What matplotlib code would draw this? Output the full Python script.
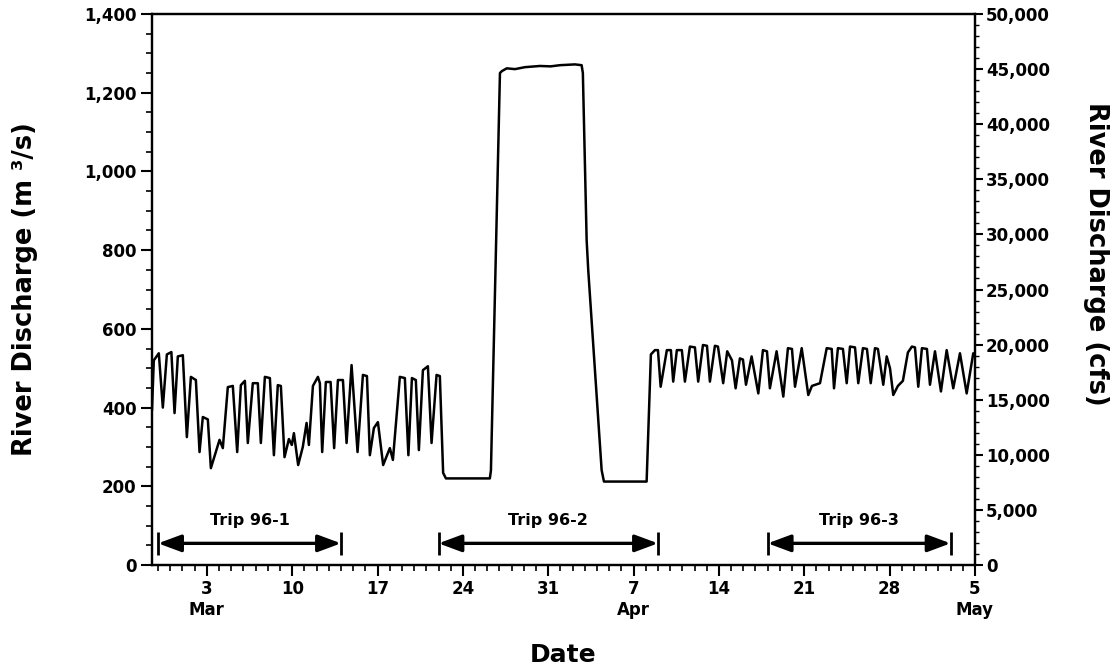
import pandas as pd
import matplotlib.pyplot as plt
from matplotlib.ticker import MultipleLocator, FuncFormatter

plt.rcParams['font.family'] = ['DejaVu Sans']
plt.rcParams['font.weight'] = 'bold'

# discharge record: days since 1 Mar 1996 and flow (m3/s)
days = [
    -2.50, -2.35, -1.94, -1.61, -1.28, -0.91, -0.65, -0.38, 0.03, 0.36,
    0.69, 1.10, 1.40, 1.67, 2.08, 2.33, 3.04, 3.31, 3.72, 4.13,
    4.49, 4.79, 5.12, 5.36, 5.77, 6.18, 6.43, 6.76, 7.17, 7.50,
    7.82, 8.07, 8.37, 8.73, 8.97, 9.14, 9.49, 9.87, 10.18, 10.37,
    10.70, 11.11, 11.27, 11.46, 11.76, 12.15, 12.44, 12.75, 13.16, 13.46,
    13.87, 14.36, 14.80, 15.13, 15.37, 15.70, 16.03, 16.46, 17.01, 17.26,
    17.83, 18.24, 18.53, 18.82, 19.14, 19.39, 19.72, 20.13, 20.43, 20.84,
    21.11, 21.38, 21.61,
    # low steady flow, then the controlled flood
    25.21, 25.30, 26.04, 26.20, 26.60, 27.27, 28.09, 29.32, 30.20, 30.96,
    32.19, 32.74, 32.84, 33.15, 33.28, 34.38, 34.57, 38.07, 38.42,
    # back to daily fluctuating flows
    38.75, 39.00, 39.22, 39.73, 40.06, 40.25, 40.55, 40.96, 41.21, 41.62,
    42.03, 42.30, 42.69, 43.02, 43.26, 43.67, 43.92, 44.35, 44.68, 45.07,
    45.37, 45.72, 45.97, 46.22, 46.68, 47.23, 47.61, 47.94, 48.18, 48.73,
    49.28, 49.66, 49.99, 50.24, 50.79, 51.33, 51.63, 52.12, 52.29, 52.84,
    53.25, 53.44, 53.76, 54.17, 54.48, 54.75, 55.16, 55.43, 55.81, 56.14,
    56.45, 56.80, 57.04, 57.48, 57.76, 58.03, 58.30, 58.68, 59.09, 59.50,
    59.83, 60.08, 60.35, 60.65, 61.06, 61.31, 61.72, 62.21, 62.68, 63.22,
    63.77, 64.32, 64.86, 65.00,
]
flow = [
    395, 520, 538, 400, 535, 541, 386, 530, 533, 325,
    478, 470, 287, 376, 370, 246, 318, 297, 452, 455,
    287, 457, 468, 310, 462, 462, 310, 478, 475, 279,
    457, 455, 274, 320, 305, 335, 254, 300, 361, 305,
    455, 478, 462, 287, 465, 465, 297, 470, 470, 310,
    508, 287, 483, 480, 279, 348, 363, 254, 297, 267,
    478, 475, 279, 475, 470, 292, 495, 505, 310, 483,
    480, 234, 220,
    220, 240, 1250, 1255, 1262, 1260, 1265, 1268, 1267, 1270,
    1272, 1270, 1250, 826, 750, 241, 212, 212, 535,
    546, 546, 453, 546, 546, 466, 546, 546, 466, 555,
    553, 466, 559, 557, 466, 557, 555, 462, 543, 520,
    449, 525, 522, 458, 530, 436, 546, 543, 449, 543,
    428, 551, 549, 453, 551, 432, 455, 460, 462, 551,
    549, 449, 551, 549, 462, 555, 553, 462, 551, 549,
    462, 551, 549, 458, 530, 500, 432, 455, 468, 540,
    555, 553, 453, 551, 549, 458, 543, 441, 546, 449,
    538, 436, 538, 530,
]

trip_names = ['Trip 96-1', 'Trip 96-2', 'Trip 96-3']
trip_start = ['1996-02-28', '1996-03-22', '1996-04-18']
trip_end = ['1996-03-14', '1996-04-09', '1996-05-03']

tick_dates = pd.date_range('1996-03-03', '1996-05-05', freq='7D')
tick_labels = ['3\nMar', '10', '17', '24', '31', '7\nApr', '14', '21', '28', '5\nMay']

t = pd.Timestamp('1996-03-01') + pd.to_timedelta(days, unit='D')

fig = plt.figure(figsize=(11.2, 6.68), dpi=100)
ax = fig.add_axes([0.1357, 0.1542, 0.7348, 0.8248])
ax.plot(t, flow, color='black', lw=1.8)

# trip arrows along the bottom
for name, s, e in zip(trip_names, trip_start, trip_end):
    s, e = pd.Timestamp(s), pd.Timestamp(e)
    ax.annotate('', xy=(e, 55), xytext=(s, 55),
                arrowprops=dict(arrowstyle='<|-|>,head_length=0.7,head_width=0.26',
                                mutation_scale=20, lw=2.4, color='black',
                                shrinkA=0, shrinkB=0))
    ax.vlines([s, e], 25, 85, color='black', lw=2)
    ax.text(s + (e - s) / 2, 95, name, ha='center', va='bottom',
            fontsize=11.5, fontweight='bold')

ax.set_xlim(pd.Timestamp('1996-02-27 12:00'), pd.Timestamp('1996-05-05'))
ax.set_ylim(0, 1400)
ax.set_xticks(tick_dates)
ax.set_xticklabels(tick_labels)
ax.set_xticks(pd.date_range('1996-02-28', '1996-05-05', freq='D'), minor=True)
ax.yaxis.set_major_locator(MultipleLocator(200))
ax.yaxis.set_minor_locator(MultipleLocator(50))
ax.yaxis.set_major_formatter(FuncFormatter(lambda v, p: f'{v:,.0f}'))
ax.tick_params(which='major', length=8, width=1.5, labelsize=12, pad=3)
ax.tick_params(which='minor', length=4, width=1.2)
ax.set_ylabel('River Discharge (m ³/s)', fontsize=18.5, fontweight='bold')
ax.yaxis.set_label_coords(-0.1385, 0.5)
ax.set_xlabel('Date', fontsize=18, fontweight='bold', labelpad=17)

ax2 = ax.twinx()
ax2.set_ylim(0, 50000)
ax2.yaxis.set_major_locator(MultipleLocator(5000))
ax2.yaxis.set_minor_locator(MultipleLocator(1000))
ax2.yaxis.set_major_formatter(FuncFormatter(lambda v, p: f'{v:,.0f}'))
ax2.tick_params(which='major', length=6, width=1.5, labelsize=12, pad=2)
ax2.tick_params(which='minor', length=3, width=1.0)
ax2.set_ylabel('River Discharge (cfs)', fontsize=18.5, fontweight='bold',
               rotation=-90, va='bottom')
ax2.yaxis.set_label_coords(1.131, 0.565)

for a in (ax, ax2):
    for sp in a.spines.values():
        sp.set_linewidth(1.6)

fig.savefig('out.png', dpi=100)
